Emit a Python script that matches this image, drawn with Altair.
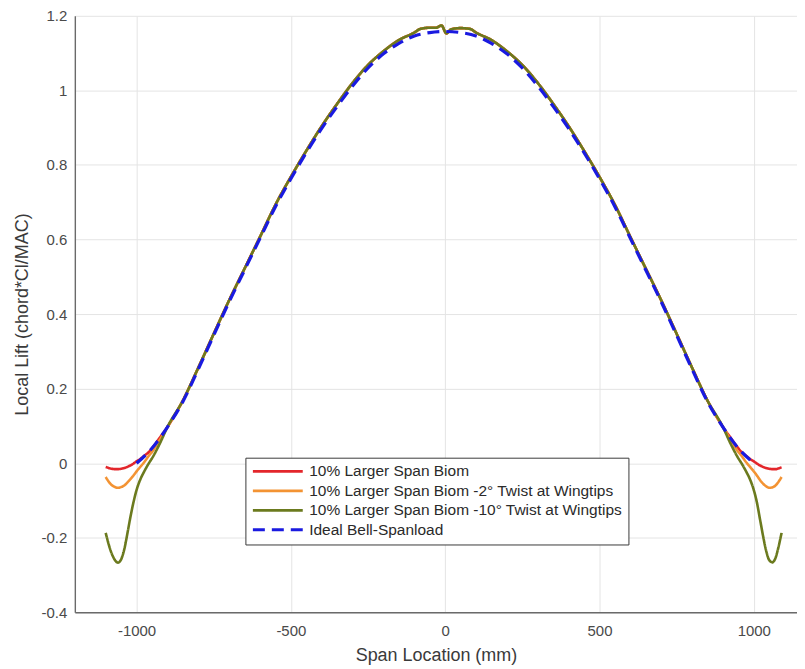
import altair as alt
import pandas as pd

# ---------------- data ----------------
series_names = [
    "10% Larger Span Biom",
    "10% Larger Span Biom -2° Twist at Wingtips",
    "10% Larger Span Biom -10° Twist at Wingtips",
    "Ideal Bell-Spanload",
]
series_colors = ["#E3262B", "#F39333", "#6B7A1E", "#1A1AE0"]

tip_left_x = [-1100, -1085, -1070, -1060, -1050, -1040, -1030, -1020, -1010, -1000, -990, -975, -960, -950, -925]
tip_right_x = [925, 950, 960, 975, 990, 1000, 1010, 1020, 1030, 1040, 1050, 1060, 1070, 1080, 1090]

body_x = [-900, -850, -800, -750, -700, -650, -600, -550, -500, -450, -400, -350, -300, -250, -200, -150,
          -100, -80, -50, -30, -12, 4, 20, 50, 80, 100,
          150, 200, 250, 300, 350, 400, 450, 500, 550, 600, 650, 700, 750, 800, 850, 900]
body_y = [0.097, 0.168, 0.256, 0.347, 0.437, 0.522, 0.607, 0.693, 0.768, 0.838, 0.904, 0.964, 1.020, 1.068, 1.105, 1.135,
          1.155, 1.165, 1.168, 1.168, 1.174, 1.153, 1.164, 1.167, 1.165, 1.155,
          1.135, 1.105, 1.068, 1.020, 0.964, 0.904, 0.838, 0.768, 0.693, 0.607, 0.522, 0.437, 0.347, 0.256, 0.168, 0.097]

red_left = [-0.010, -0.014, -0.016, -0.016, -0.015, -0.013, -0.010, -0.006, -0.001, 0.005, 0.010, 0.020, 0.030, 0.040, 0.068]
red_right = [0.068, 0.040, 0.030, 0.020, 0.010, 0.005, -0.001, -0.006, -0.010, -0.013, -0.015, -0.016, -0.016, -0.014, -0.011]

orange_left = [-0.037, -0.055, -0.064, -0.066, -0.064, -0.060, -0.052, -0.043, -0.033, -0.022, -0.012, 0.003, 0.020, 0.030, 0.062]
orange_right = [0.062, 0.030, 0.020, 0.003, -0.012, -0.022, -0.033, -0.045, -0.055, -0.062, -0.066, -0.065, -0.060, -0.050, -0.037]

olive_left = [-0.187, -0.232, -0.260, -0.267, -0.258, -0.232, -0.190, -0.145, -0.105, -0.072, -0.048, -0.022, 0.000, 0.013, 0.052]
olive_right = [0.052, 0.013, 0.000, -0.022, -0.048, -0.072, -0.105, -0.150, -0.195, -0.235, -0.260, -0.266, -0.255, -0.225, -0.187]

bell_x = [-1000, -950, -900, -850, -800, -750, -700, -650, -600, -550, -500, -450, -400, -350, -300, -250, -200, -150, -100, -50,
          0, 50, 100, 150, 200, 250, 300, 350, 400, 450, 500, 550, 600, 650, 700, 750, 800, 850, 900, 950, 1000]
bell_y = [0.0, 0.040, 0.097, 0.165, 0.252, 0.343, 0.433, 0.518, 0.603, 0.688, 0.763, 0.833, 0.898, 0.957, 1.012, 1.060, 1.098, 1.126, 1.146, 1.155,
          1.158, 1.155, 1.146, 1.126, 1.098, 1.060, 1.012, 0.957, 0.898, 0.833, 0.763, 0.688, 0.603, 0.518, 0.433, 0.343, 0.252, 0.165, 0.097, 0.040, 0.0]

x_ticks = [-1000, -500, 0, 500, 1000]
y_ticks = [-0.4, -0.2, 0, 0.2, 0.4, 0.6, 0.8, 1, 1.2]

# ---------------- build table ----------------
span_x = tip_left_x + body_x + tip_right_x
rows = []
for name, left, right in [(series_names[0], red_left, red_right),
                          (series_names[1], orange_left, orange_right),
                          (series_names[2], olive_left, olive_right)]:
    ys = left + body_y + right
    for xv, yv in zip(span_x, ys):
        rows.append({"series": name, "span": xv, "lift": yv})
for xv, yv in zip(bell_x, bell_y):
    rows.append({"series": series_names[3], "span": xv, "lift": yv})
df = pd.DataFrame(rows)

FONT = "Liberation Sans"

legend = alt.Legend(
    orient="none", legendX=171, legendY=443,
    fillColor="white", strokeColor="#3a3a3a", padding=6,
    labelFont=FONT, labelFontSize=15.5, labelColor="#2a2a2a", labelLimit=600,
    symbolType="stroke", symbolSize=2500, symbolStrokeWidth=2.8,
    clipHeight=15.5, rowPadding=2.5, labelOffset=5,
)

base = alt.Chart(df).encode(
    x=alt.X("span:Q",
            scale=alt.Scale(domain=[-1200, 1140], nice=False, zero=False),
            axis=alt.Axis(values=x_ticks, labelExpr="datum.value + ''", title="Span Location (mm)",
                          grid=True, ticks=False, labelPadding=11, titlePadding=8)),
    y=alt.Y("lift:Q",
            scale=alt.Scale(domain=[-0.4, 1.2], nice=False, zero=False),
            axis=alt.Axis(values=y_ticks, labelExpr="datum.value + ''", title="Local Lift (chord*Cl/MAC)",
                          grid=True, ticks=False, labelPadding=8, titlePadding=10)),
    color=alt.Color("series:N", title=None,
                    scale=alt.Scale(domain=series_names, range=series_colors),
                    legend=legend),
    strokeDash=alt.StrokeDash("series:N", title=None,
                              scale=alt.Scale(domain=series_names, range=[[1, 0], [1, 0], [1, 0], [12, 7]]),
                              legend=legend),
)

layers = []
for i, name in enumerate(series_names):
    sw = 3.2 if i == 3 else 2.6
    layers.append(
        base.transform_filter(alt.datum.series == name).mark_line(strokeWidth=sw, interpolate="monotone")
    )

chart = alt.layer(*layers).properties(
    width=724, height=598,
    autosize=alt.AutoSizeParams(type="none"),
    padding={"left": 67, "top": 7, "right": 0, "bottom": 54},
).configure_view(
    strokeOpacity=0
).configure_axis(
    labelFont=FONT, labelFontSize=15, labelColor="#4a4a4a",
    titleFont=FONT, titleFontSize=18, titleFontWeight="normal", titleColor="#3a3a3a",
    gridColor="#e4e4e4", gridWidth=1,
    domainColor="#6a6a6a", domainWidth=1.4,
)

chart.save("out.html", embed_options={"renderer": "svg", "actions": False})
